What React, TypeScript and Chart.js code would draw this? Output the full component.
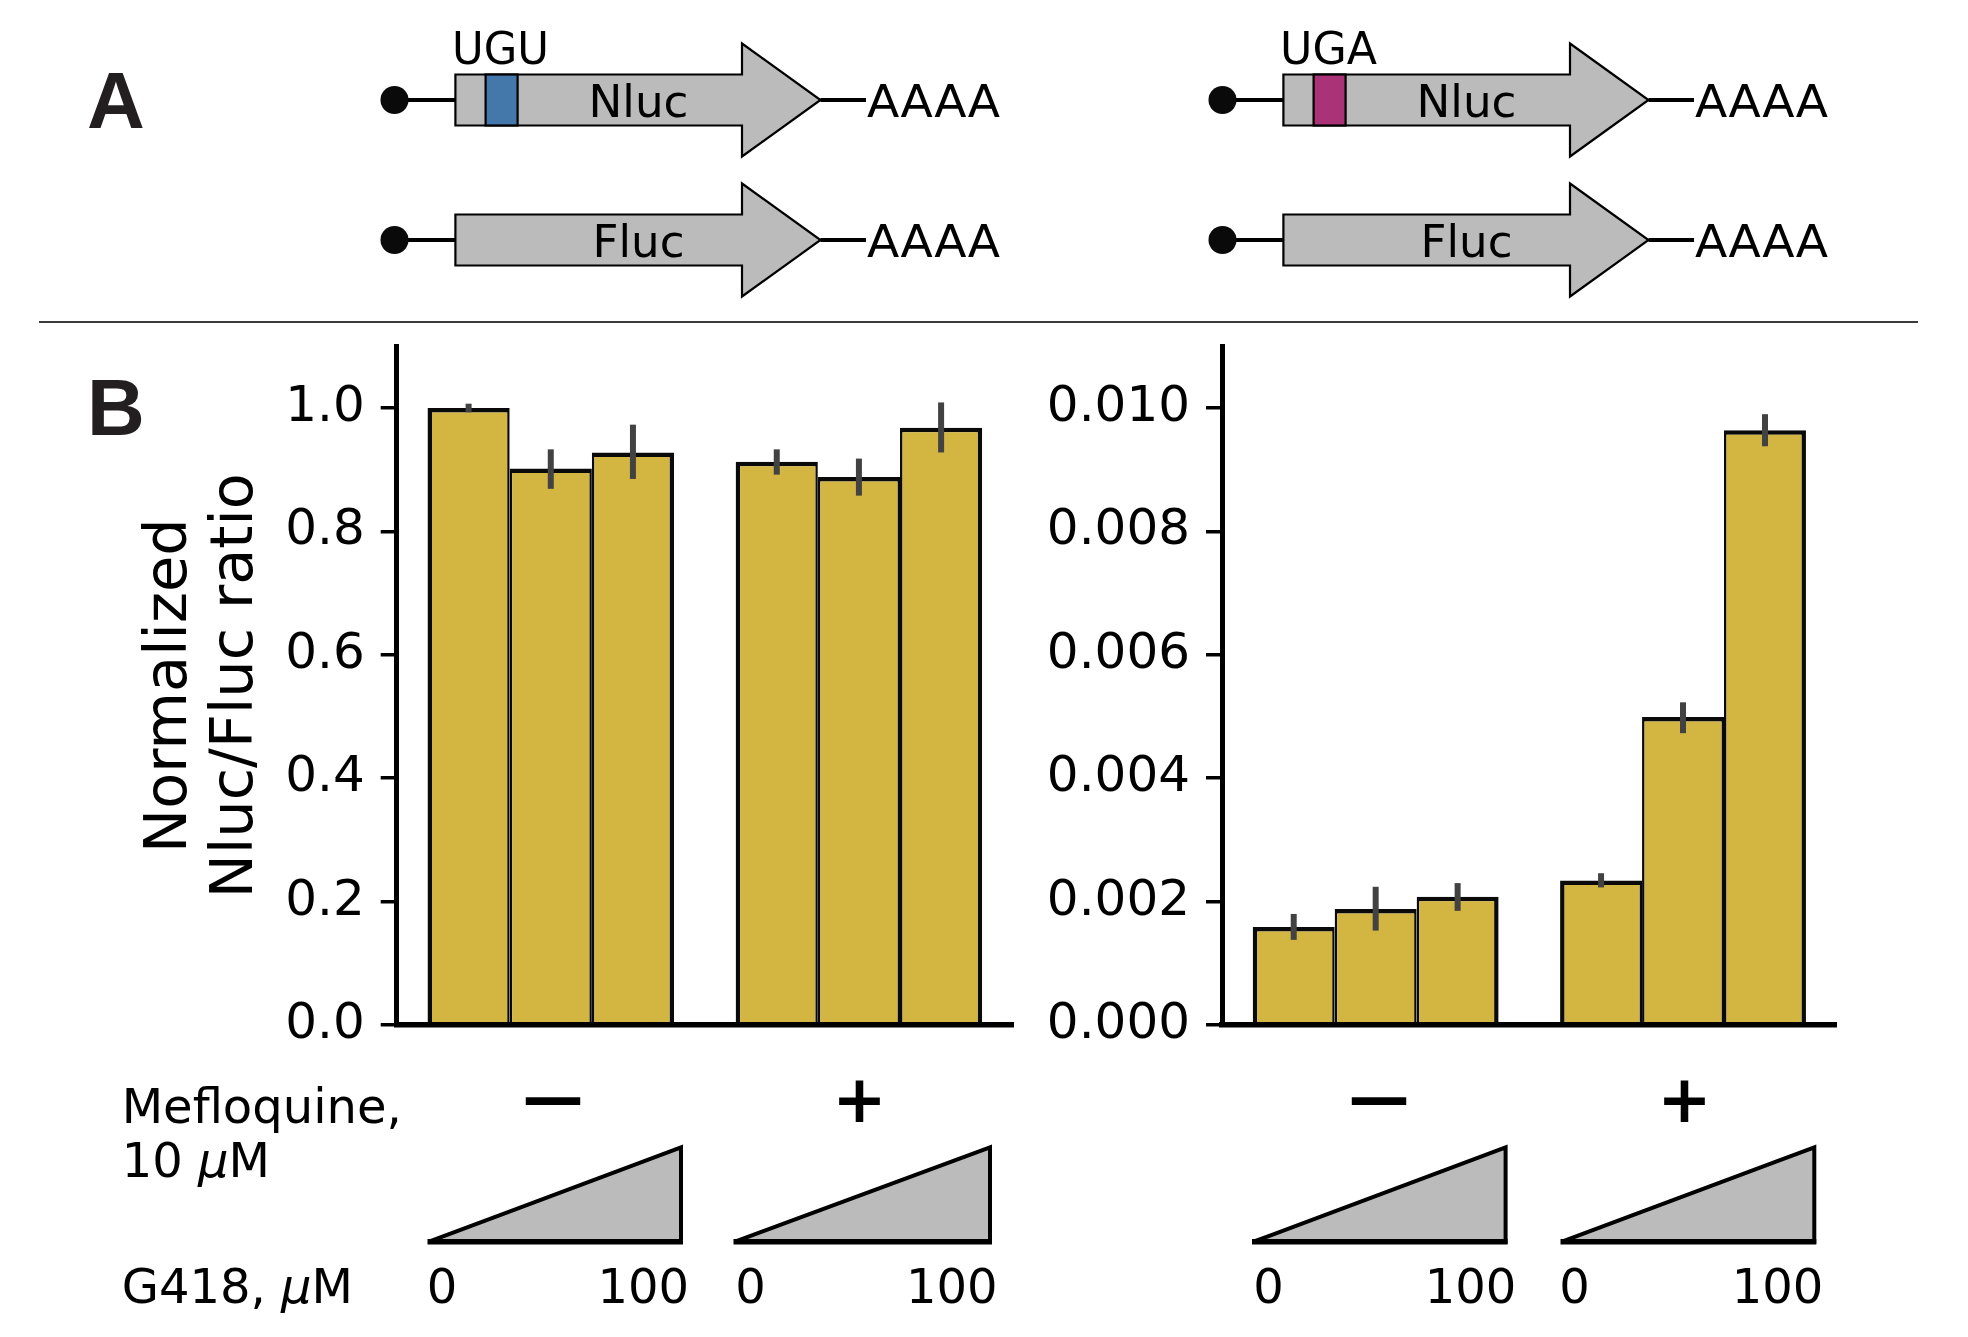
import React, { useEffect, useRef } from 'react';
import { Chart, registerables } from 'chart.js';

Chart.register(...registerables);
Chart.defaults.font.family = 'DejaVu Sans';
Chart.defaults.color = '#000';

// ---------------- DATA ----------------
const mefloquine = ['−', '+'];
const g418Doses = ['G418 0 µM', 'G418 intermediate', 'G418 100 µM'];

// UGU reporter (left panel): one array per G418 dose, values for [mefloquine −, mefloquine +]
const uguDose0 = [1.0, 0.913];
const uguDoseMid = [0.902, 0.888];
const uguDose100 = [0.928, 0.968];
const uguLow0 = [0.993, 0.892];
const uguHigh0 = [1.007, 0.933];
const uguLowMid = [0.869, 0.858];
const uguHighMid = [0.933, 0.918];
const uguLow100 = [0.885, 0.928];
const uguHigh100 = [0.973, 1.009];
const uguTicks = [0, 0.2, 0.4, 0.6, 0.8, 1.0];

// UGA reporter (right panel)
const ugaDose0 = [0.00159, 0.00234];
const ugaDoseMid = [0.00188, 0.00499];
const ugaDose100 = [0.00208, 0.00964];
const ugaLow0 = [0.00138, 0.00223];
const ugaHigh0 = [0.0018, 0.00246];
const ugaLowMid = [0.00153, 0.00473];
const ugaHighMid = [0.00224, 0.00523];
const ugaLow100 = [0.00185, 0.00938];
const ugaHigh100 = [0.0023, 0.0099];
const ugaTicks = [0, 0.002, 0.004, 0.006, 0.008, 0.01];

const g418TickLabels = ['0', '100'];

// ---------------- STYLE ----------------
const BAR_FILL = '#D3B541';
const EDGE = '#0a0a0a';
const ERR_COLOR = '#424242';
const GREY = '#BBBBBB';

const errorBarPlugin = {
  id: 'errorBars',
  afterDatasetsDraw(chart: any, _args: any, opts: any) {
    const ctx = chart.ctx;
    const y = chart.scales.y;
    ctx.save();
    ctx.strokeStyle = opts.color;
    ctx.lineWidth = opts.width;
    ctx.lineCap = 'butt';
    chart.data.datasets.forEach((ds: any, i: number) => {
      const meta = chart.getDatasetMeta(i);
      meta.data.forEach((bar: any, j: number) => {
        ctx.beginPath();
        ctx.moveTo(bar.x, y.getPixelForValue(ds.errLow[j]));
        ctx.lineTo(bar.x, y.getPixelForValue(ds.errHigh[j]));
        ctx.stroke();
      });
    });
    ctx.restore();
  },
};

type PanelSpec = {
  canvasW: number;
  canvasH: number;
  area: { left: number; right: number; top: number; bottom: number };
  values: number[][];
  low: number[][];
  high: number[][];
  ticks: number[];
  max: number;
  decimals: number;
  title?: string[];
};

function makeConfig(p: PanelSpec): any {
  const datasets = p.values.map((vals, i) => ({
    label: g418Doses[i],
    data: vals,
    errLow: p.low[i],
    errHigh: p.high[i],
    backgroundColor: BAR_FILL,
    borderColor: EDGE,
    borderWidth: {
      top: 4.5,
      bottom: 0,
      left: i === 0 ? 4.5 : 2.5,
      right: i === p.values.length - 1 ? 4.5 : 2.5,
    },
    borderSkipped: false,
    categoryPercentage: 0.8,
    barPercentage: 1.0,
  }));
  return {
    type: 'bar',
    data: { labels: mefloquine, datasets },
    plugins: [errorBarPlugin],
    options: {
      responsive: false,
      animation: false,
      devicePixelRatio: 1,
      layout: {
        padding: {
          left: 0,
          top: p.area.top,
          right: p.canvasW - p.area.right,
          bottom: p.canvasH - p.area.bottom,
        },
      },
      plugins: {
        legend: { display: false },
        tooltip: { enabled: false },
        errorBars: { color: ERR_COLOR, width: 6 },
      },
      scales: {
        x: {
          type: 'category',
          offset: true,
          grid: { display: false },
          ticks: { display: false },
          border: { display: true, width: 5.5, color: '#000', z: 1 },
          afterFit: (s: any) => {
            s.height = 0;
            s.paddingLeft = 0;
            s.paddingRight = 0;
          },
        },
        y: {
          type: 'linear',
          min: 0,
          max: p.max,
          afterBuildTicks: (s: any) => {
            s.ticks = p.ticks.map((v) => ({ value: v }));
          },
          ticks: {
            font: { size: 50 },
            color: '#000',
            padding: 16,
            autoSkip: false,
            callback: (v: any) => Number(v).toFixed(p.decimals),
          },
          grid: {
            display: true,
            drawOnChartArea: false,
            drawTicks: true,
            tickLength: 16,
            tickWidth: 3.5,
            lineWidth: 3.5,
            tickColor: '#000',
            color: '#000',
          },
          border: { display: true, width: 5, color: '#000', z: 1 },
          title: p.title
            ? {
                display: true,
                text: p.title,
                color: '#000',
                font: { size: 59, lineHeight: 66 / 59 },
                padding: { top: 137.5, bottom: 0 },
              }
            : { display: false },
          afterFit: (s: any) => {
            s.width = p.area.left;
            s.paddingTop = 0;
            s.paddingBottom = 0;
          },
        },
      },
    },
  };
}

function ChartCanvas({ x, y, spec }: { x: number; y: number; spec: PanelSpec }) {
  const ref = useRef<HTMLCanvasElement | null>(null);
  useEffect(() => {
    if (!ref.current) return;
    const chart = new Chart(ref.current, makeConfig(spec));
    return () => chart.destroy();
  }, [spec]);
  return (
    <canvas
      ref={ref}
      width={spec.canvasW}
      height={spec.canvasH}
      style={{ position: 'absolute', left: x, top: y, width: spec.canvasW, height: spec.canvasH }}
    />
  );
}

const CANVAS_TOP = 330;

const leftSpec: PanelSpec = {
  canvasW: 1030,
  canvasH: 760,
  area: { left: 396.7, right: 1013, top: 346.3 - CANVAS_TOP, bottom: 1025 - CANVAS_TOP },
  values: [uguDose0, uguDoseMid, uguDose100],
  low: [uguLow0, uguLowMid, uguLow100],
  high: [uguHigh0, uguHighMid, uguHigh100],
  ticks: uguTicks,
  max: 1.1,
  decimals: 1,
  title: ['Normalized', 'Nluc/Fluc ratio'],
};

const RIGHT_X = 1030;
const rightSpec: PanelSpec = {
  canvasW: 938,
  canvasH: 760,
  area: { left: 1222 - RIGHT_X, right: 1836.7 - RIGHT_X, top: 346.3 - CANVAS_TOP, bottom: 1025 - CANVAS_TOP },
  values: [ugaDose0, ugaDoseMid, ugaDose100],
  low: [ugaLow0, ugaLowMid, ugaLow100],
  high: [ugaHigh0, ugaHighMid, ugaHigh100],
  ticks: ugaTicks,
  max: 0.011,
  decimals: 3,
};

// --------- Panel A construct drawing ---------
function Construct({ dx, cy, label, codon, codonColor }: { dx: number; cy: number; label: string; codon?: string; codonColor?: string }) {
  const x0 = 455.4 + dx;
  const xh = 742 + dx;
  const xt = 820.5 + dx;
  const hh = 25.5;
  const ah = 56.5;
  const pts = [
    [x0, cy - hh],
    [xh, cy - hh],
    [xh, cy - ah],
    [xt, cy],
    [xh, cy + ah],
    [xh, cy + hh],
    [x0, cy + hh],
  ]
    .map((p) => p.join(','))
    .join(' ');
  return (
    <g>
      <line x1={400 + dx} y1={cy} x2={x0} y2={cy} stroke="#000" strokeWidth={4} />
      <circle cx={394.5 + dx} cy={cy} r={14} fill="#0a0a0a" />
      <polygon points={pts} fill={GREY} stroke="#000" strokeWidth={2.2} strokeLinejoin="miter" />
      {codon && (
        <rect x={485.6 + dx} y={cy - hh} width={32} height={hh * 2} fill={codonColor} stroke="#000" strokeWidth={2.2} />
      )}
      <line x1={xt} y1={cy} x2={866 + dx} y2={cy} stroke="#000" strokeWidth={4} />
      <text x={638.5 + dx} y={cy + 17} fontSize={44} textAnchor="middle" textLength={label === 'Nluc' ? 100 : 92} lengthAdjust="spacingAndGlyphs">
        {label}
      </text>
      <text x={867 + dx} y={cy + 17} fontSize={44} textLength={133} lengthAdjust="spacingAndGlyphs">
        AAAA
      </text>
      {codon && (
        <text x={452 + dx} y={64} fontSize={44} textLength={97} lengthAdjust="spacingAndGlyphs">
          {codon}
        </text>
      )}
    </g>
  );
}

// bottom annotation geometry (group extents under the bars)
const groupSpans = [
  [429, 681],
  [735, 990],
  [1253.5, 1505.6],
  [1562, 1814.3],
];
const signCenters = [553, 859.5, 1379, 1684.4];
const zeroCenters = [442, 750.5, 1268.5, 1574.5];
const hundredCenters = [643.3, 951.7, 1470.5, 1777.5];

function Overlay() {
  return (
    <svg
      width={1968}
      height={1337}
      style={{ position: 'absolute', left: 0, top: 0, pointerEvents: 'none' }}
      fontFamily="DejaVu Sans"
    >
      <text x={87} y={128} fontFamily="Liberation Sans" fontWeight="bold" fontSize={80} fill="#231F20">
        A
      </text>
      <text x={87} y={435} fontFamily="Liberation Sans" fontWeight="bold" fontSize={80} fill="#231F20">
        B
      </text>
      <Construct dx={0} cy={100} label="Nluc" codon="UGU" codonColor="#4477AA" />
      <Construct dx={0} cy={240} label="Fluc" />
      <Construct dx={828} cy={100} label="Nluc" codon="UGA" codonColor="#AA3377" />
      <Construct dx={828} cy={240} label="Fluc" />
      <line x1={39} y1={322} x2={1918} y2={322} stroke="#3a3a3a" strokeWidth={2} />

      <text x={121.7} y={1123} fontSize={48}>
        Mefloquine,
      </text>
      <text x={121.7} y={1176.5} fontSize={48}>
        10 <tspan fontStyle="italic">μ</tspan>M
      </text>
      <text x={121.7} y={1303} fontSize={48}>
        G418, <tspan fontStyle="italic">μ</tspan>M
      </text>

      {signCenters.map((cx, i) => (
        <text
          key={'s' + i}
          x={cx}
          y={i % 2 === 0 ? 1118 : 1121.5}
          fontSize={i % 2 === 0 ? 61 : 65}
          fontWeight="bold"
          textAnchor="middle"
        >
          {i % 2 === 0 ? '—' : '+'}
        </text>
      ))}

      {groupSpans.map(([l, r], i) => (
        <g key={'t' + i}>
          <polygon
            points={`${l},1241.7 ${r},1241.7 ${r},1147.3`}
            fill={GREY}
            stroke="#000"
            strokeWidth={4}
            strokeLinejoin="miter"
          />
          <line x1={l - 1.5} y1={1241.7} x2={r + 2} y2={1241.7} stroke="#000" strokeWidth={5.5} />
        </g>
      ))}

      {zeroCenters.map((cx, i) => (
        <text key={'z' + i} x={cx} y={1303} fontSize={48} textAnchor="middle">
          {g418TickLabels[0]}
        </text>
      ))}
      {hundredCenters.map((cx, i) => (
        <text key={'h' + i} x={cx} y={1303} fontSize={48} textAnchor="middle">
          {g418TickLabels[1]}
        </text>
      ))}
    </svg>
  );
}

export default function App() {
  return (
    <div
      style={{
        position: 'absolute',
        left: 0,
        top: 0,
        width: 1968,
        height: 1337,
        overflow: 'hidden',
        background: '#fff',
      }}
    >
      <ChartCanvas x={0} y={CANVAS_TOP} spec={leftSpec} />
      <ChartCanvas x={RIGHT_X} y={CANVAS_TOP} spec={rightSpec} />
      <Overlay />
    </div>
  );
}
